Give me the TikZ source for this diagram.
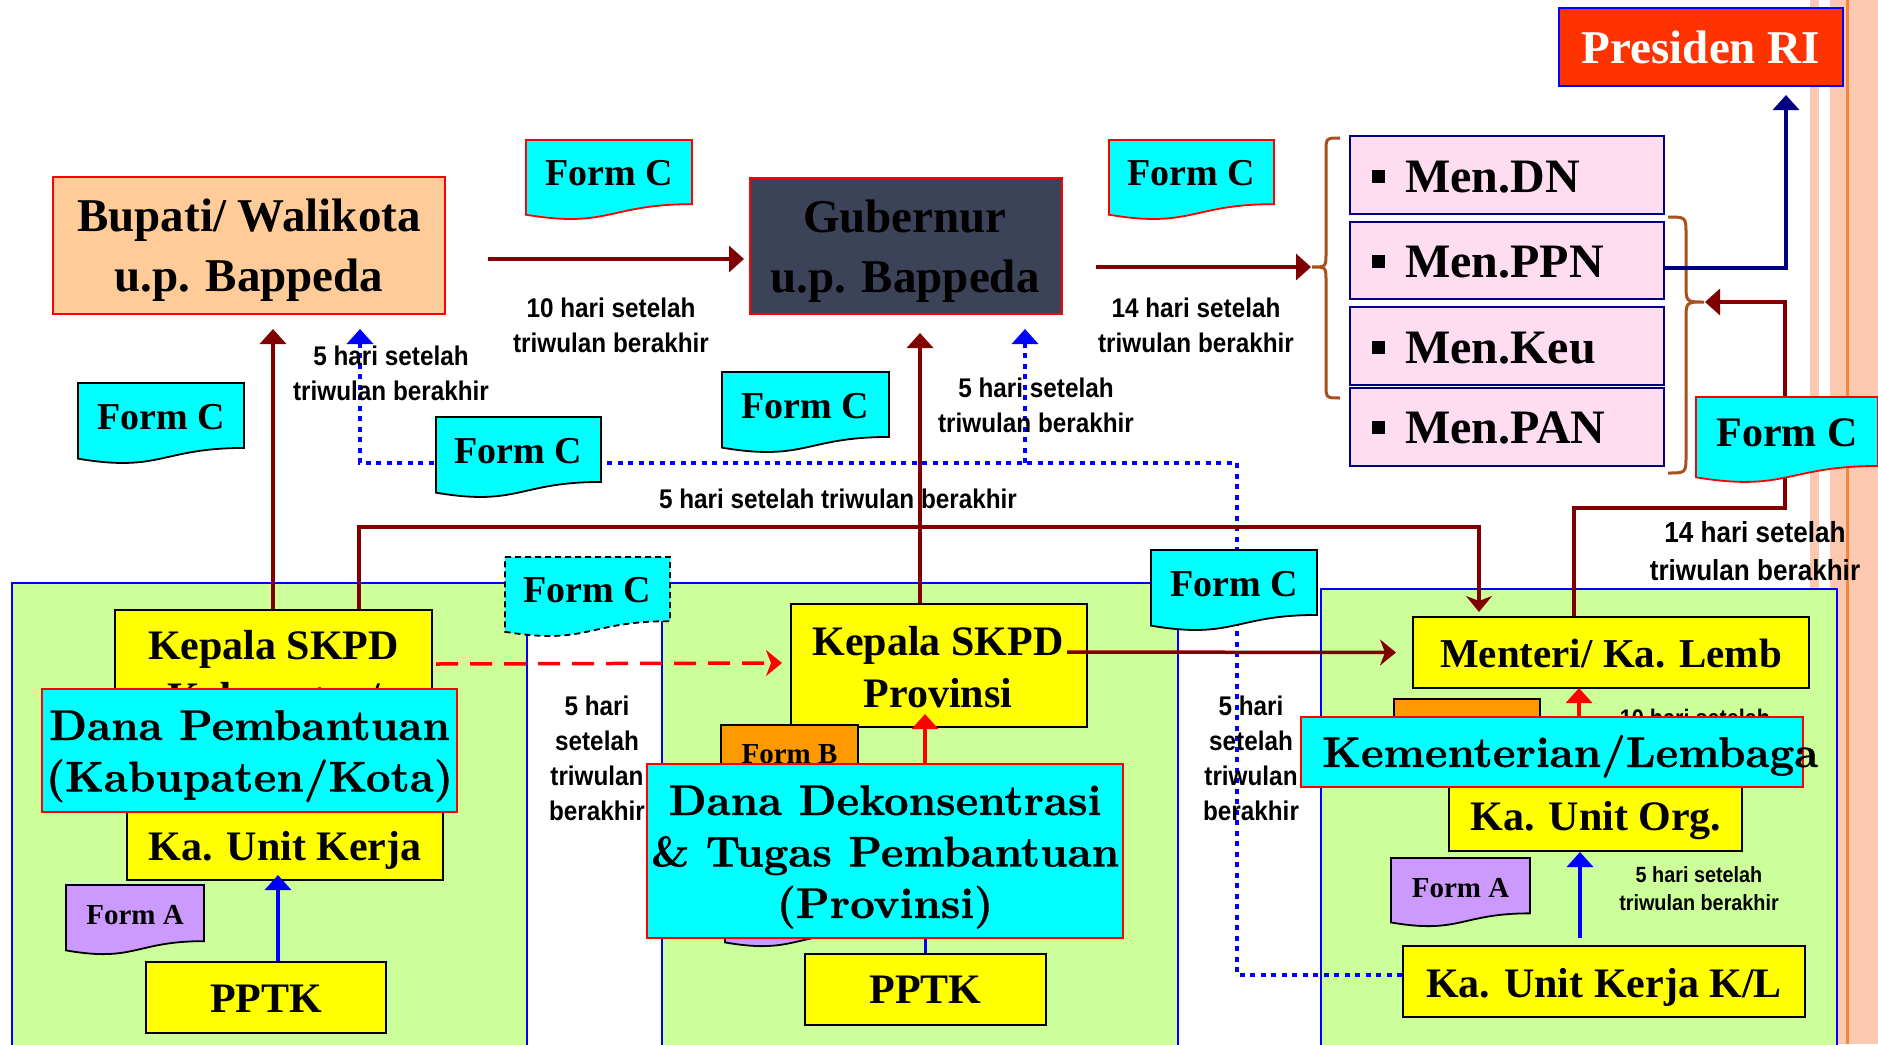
\documentclass[tikz,border=0pt]{standalone}
\usepackage{fontspec}
\setmainfont{Liberation Serif}
\newfontfamily\labfont[FakeStretch=0.9]{Liberation Sans}
\newfontfamily\lmwide[Extension=.otf, UprightFont=*-regular, BoldFont=*-bold, BoldFeatures={FakeBold=0.7}]{lmroman10}
\usetikzlibrary{arrows.meta,calc}

\pgfdeclarelayer{bg}
\pgfdeclarelayer{lines}
\pgfdeclarelayer{top}
\pgfsetlayers{bg,lines,main,top}

\definecolor{dred}{HTML}{800000}
\definecolor{navyc}{HTML}{000080}
\definecolor{bluec}{HTML}{0000FF}
\definecolor{cyanc}{HTML}{00FFFF}
\definecolor{yel}{HTML}{FFFF00}
\definecolor{panelg}{HTML}{CCFF99}
\definecolor{peach}{HTML}{FFCC99}
\definecolor{slate}{HTML}{3C4358}
\definecolor{pinkm}{HTML}{FFDDF1}
\definecolor{pres}{HTML}{FF3300}
\definecolor{formb}{HTML}{FF9900}
\definecolor{forma}{HTML}{CC99FF}
\definecolor{bracec}{HTML}{A8501E}
\definecolor{salmon}{HTML}{FCC8B0}
\definecolor{stripe}{HTML}{F5853F}

% stacked lines, baseline = first line
\newcommand\mlines[1]{\begin{tabular}[t]{@{}c@{}}#1\end{tabular}}
% square bullet for the ministry list
\newcommand\mbul{\rule[9.5pt]{13pt}{13pt}\hspace{20pt}}
% flowchart "document" sheet: name, x, y, w, h, sheet style, text style, text
\newcommand\docform[8]{%
  \pgfmathsetmacro\fxr{#2+#4}%
  \pgfmathsetmacro\fxm{#2+0.5*#4}%
  \pgfmathsetmacro\fya{#3+0.802*#5}%
  \pgfmathsetmacro\fyb{#3+1.1075*#5}%
  \pgfmathsetmacro\fyc{#3+0.934*#5}%
  \pgfmathsetmacro\fyt{#3+0.57*#5}%
  \path[#6] (#2,#3) -- (\fxr,#3) -- (\fxr,\fya) .. controls (\fxm,\fya) and (\fxm,\fyb) .. (#2,\fyc) -- cycle;
  \node[#7] (#1) at (\fxm,\fyt) {#8};
}

\begin{document}
\begin{tikzpicture}[x=1pt,y=-1pt,
  every node/.style={inner sep=0pt},
  boxbase/.style={draw, line width=2pt, inner sep=0pt},
  ybox/.style={boxbase, draw=black, fill=yel},
  cbox/.style={boxbase, draw=red, fill=cyanc},
  mbox/.style={boxbase, draw=navyc, fill=pinkm, minimum width=314pt},
  panel/.style={fill=panelg, draw=bluec, line width=1.8pt},
  serif/.style={anchor=base, font=\bfseries\fontsize{42}{52}\selectfont},
  bigserif/.style={anchor=base, font=\bfseries\fontsize{47}{60}\selectfont},
  lmtxt/.style={anchor=base, font=\lmwide\bfseries\fontsize{43}{51.5}\selectfont},
  mtxt/.style={anchor=base west, font=\bfseries\fontsize{48}{56}\selectfont},
  lbl/.style={anchor=base, font=\labfont\bfseries\fontsize{27}{35}\selectfont},
  formC/.style={fill=cyanc, draw=black, line width=1.8pt},
  formCr/.style={formC, draw=red},
  formCd/.style={formC, dash pattern=on 6pt off 4pt},
  formAs/.style={fill=forma, draw=black, line width=1.8pt},
  ftC/.style={anchor=base, font=\bfseries\fontsize{38}{44}\selectfont},
  ftCbig/.style={anchor=base, font=\bfseries\fontsize{42}{48}\selectfont},
  ftA/.style={anchor=base, font=\bfseries\fontsize{29}{34}\selectfont},
  conn/.style={draw=dred, line width=3.5pt},
  redc/.style={draw=red, line width=3.5pt},
  blu/.style={draw=bluec, line width=3.5pt},
  nav/.style={draw=navyc, line width=3.5pt},
  dotl/.style={draw=bluec, line width=4.5pt, dash pattern=on 5pt off 5.5pt},
  rdash/.style={draw=red, line width=3.5pt, dash pattern=on 22pt off 12pt},
  brc/.style={draw=bracec, line width=3pt},
  tri/.style={-{Triangle[length=15pt,width=26pt]}},
  stl/.style={-{Stealth[length=16pt,width=26pt,inset=5pt]}},
]
\useasboundingbox (0,0) rectangle (1878,1044);

% ---------- backdrop: edge stripes and the three green panels ----------
\begin{pgfonlayer}{bg}
  \fill[salmon] (1810,0) rectangle (1819,1044);
  \fill[salmon] (1830,0) rectangle (1878,1044);
  \fill[stripe] (1846,0) rectangle (1848.5,1044);
  \path[panel] (12,583) rectangle (527,1060);
  \path[panel] (662,583) rectangle (1178,1060);
  \path[panel] (1321,589) rectangle (1837,1060);
\end{pgfonlayer}

% ---------- top row ----------
\node[boxbase, draw=red, fill=peach, minimum width=392pt, minimum height=137pt] (bupati) at (249,245.5) {};
\node[bigserif] (bupatiT) at (249,231.5) {\mlines{Bupati/ Walikota\\u.p. Bappeda}};
\node[boxbase, draw=red, fill=slate, minimum width=312pt, minimum height=136pt] (gub) at (906,246) {};
\node[bigserif] (gubT) at (905,232) {\mlines{Gubernur\\u.p. Bappeda}};
\node[boxbase, draw=bluec, fill=pres, minimum width=284pt, minimum height=78pt] (pres) at (1701,47) {};
\node[bigserif, text=white] (presT) at (1701,63) {Presiden RI};

\node[mbox, minimum height=78pt] (mdn) at (1507,175) {};
\node[mtxt] (mdnT) at (1372,192) {\mbul Men.DN};
\node[mbox, minimum height=77pt] (mppn) at (1507,260.5) {};
\node[mtxt] (mppnT) at (1372,277) {\mbul Men.PPN};
\node[mbox, minimum height=78pt] (mkeu) at (1507,346) {};
\node[mtxt] (mkeuT) at (1372,363) {\mbul Men.Keu};
\node[mbox, minimum height=78pt] (mpan) at (1507,427) {};
\node[mtxt] (mpanT) at (1372,443) {\mbul Men.PAN};

% ---------- Form C sheets ----------
\docform{fc1}{526}{140}{166}{80}{formCr}{ftC}{Form C}
\docform{fc2}{1109}{140}{165}{80}{formCr}{ftC}{Form C}
\docform{fc3}{78}{383}{166}{81}{formC}{ftC}{Form C}
\docform{fc4}{436}{417}{165}{81}{formC}{ftC}{Form C}
\docform{fc5}{722}{372}{167}{81}{formC}{ftC}{Form C}
\docform{fc6}{1696}{397}{182}{86}{formCr}{ftCbig}{Form C}
\docform{fc7}{505}{557}{165}{80}{formCd}{ftC}{Form C}
\docform{fc8}{1151}{550}{166}{81}{formC}{ftC}{Form C}

% ---------- deadline labels ----------
\node[lbl] (l10) at (611,317) {\mlines{10 hari setelah\\triwulan berakhir}};
\node[lbl] (l14) at (1196,317) {\mlines{14 hari setelah\\triwulan berakhir}};
\node[lbl] (l5a) at (391,365) {\mlines{5 hari setelah\\triwulan berakhir}};
\node[lbl] (l5b) at (1036,397) {\mlines{5 hari setelah\\triwulan berakhir}};
\node[lbl] (l5c) at (838,508) {5 hari setelah triwulan berakhir};
\node[lbl, font=\labfont\bfseries\fontsize{29}{38}\selectfont] (l14r) at (1755,542) {\mlines{14 hari setelah\\triwulan berakhir}};
\node[lbl] (l5d) at (597,715) {\mlines{5 hari\\setelah\\triwulan\\berakhir}};
\node[lbl] (l5e) at (1251,715) {\mlines{5 hari\\setelah\\triwulan\\berakhir}};
\node[lbl, font=\labfont\bfseries\fontsize{22}{28}\selectfont] (l5f) at (1699,882) {\mlines{5 hari setelah\\triwulan berakhir}};

% ---------- Kabupaten/Kota panel ----------
\node[ybox, minimum width=317pt, minimum height=130pt] (kepkab) at (273.5,675) {};
\node[serif] (kepkabT) at (273.5,659) {\mlines{Kepala SKPD\\Kabupaten/}};
\node[ybox, minimum width=316pt, minimum height=68pt] (kukk) at (285,846) {};
\node[serif] (kukkT) at (285,860) {Ka. Unit Kerja};
\node[cbox, minimum width=415pt, minimum height=123pt] (danakab) at (249.5,750.5) {};
\node[lmtxt] (danakabT) at (249.5,740) {\mlines{Dana Pembantuan\\(Kabupaten/Kota)}};
\docform{faK}{66}{885}{138}{70}{formAs}{ftA}{Form A}
\node[ybox, minimum width=240pt, minimum height=71pt] (pptkk) at (266,997.5) {};
\node[serif] (pptkkT) at (266,1012) {PPTK};

% ---------- Provinsi panel ----------
\node[ybox, minimum width=296pt, minimum height=123pt] (kepprov) at (939,665.5) {};
\node[serif] (kepprovT) at (938,655) {\mlines{Kepala SKPD\\Provinsi}};
\node[ybox, fill=formb, minimum width=137pt, minimum height=75pt] (frmB) at (789.5,762.5) {};
\node[ftA] (frmBT) at (789.5,763) {Form B};
\docform{faP}{725}{877}{138}{70}{formAs}{ftA}{}
\node[cbox, minimum width=476pt, minimum height=174pt] (dekon) at (885,851) {};
\node[lmtxt] (dekonT) at (885,815) {\mlines{Dana Dekonsentrasi\\\& Tugas Pembantuan\\(Provinsi)}};
\node[ybox, minimum width=241pt, minimum height=71pt] (pptkp) at (925.5,989.5) {};
\node[serif] (pptkpT) at (925.5,1003) {PPTK};

% ---------- Kementerian/Lembaga panel ----------
\node[ybox, minimum width=396pt, minimum height=71pt] (menteri) at (1611,652.5) {};
\node[serif, font=\bfseries\fontsize{41}{50}\selectfont] (menteriT) at (1611,667) {Menteri/ Ka. Lemb};
\node[ybox, fill=formb, minimum width=146pt, minimum height=46pt] (frmBL) at (1467,722) {};
\node[lbl, font=\labfont\bfseries\fontsize{24}{30}\selectfont] (l10h) at (1695,726) {\mlines{10 hari setelah\\triwulan berakhir}};
\node[ybox, minimum width=293pt, minimum height=70pt] (kuo) at (1595.5,816) {};
\node[serif] (kuoT) at (1596,830) {Ka. Unit Org.};
\node[cbox, minimum width=502pt, minimum height=70pt] (kem) at (1552,752) {};
\node[lmtxt, anchor=base west] (kemT) at (1322,767) {Kementerian/Lembaga};
\docform{faL}{1391}{858}{139}{69}{formAs}{ftA}{Form A}
\node[ybox, minimum width=402pt, minimum height=71pt] (kukl) at (1604,981.5) {};
\node[serif] (kuklT) at (1604,997) {Ka. Unit Kerja K/L};

% ---------- connectors under the boxes ----------
\begin{pgfonlayer}{lines}
  % dotted reporting line from the K/L work unit
  \coordinate (dR) at (1237,463);
  \coordinate (dL) at (360,463);
  \coordinate (dM) at (1025,463);
  \draw[dotl, tri] ([yshift=6.5pt]kukl.west) -| (dR) -- (dL) -- ([xshift=111pt,yshift=-14pt]bupati.south);
  \draw[dotl, tri] (dM) -- ([xshift=119pt,yshift=-14pt]gub.south);

  % braces around the ministries
  \coordinate (braceL) at (1311,267);
  \coordinate (braceR) at (1705,302);
  \draw[brc] (1340,138) .. controls (1326,138) .. (1326,152) -- (1326,253)
     .. controls (1326,267) .. (1312,267) .. controls (1326,267) .. (1326,281)
     -- (1326,384) .. controls (1326,398) .. (1340,398);
  \draw[brc] (1668,217) .. controls (1686,217) .. (1686,235) -- (1686,284)
     .. controls (1686,302) .. (1704,302) .. controls (1686,302) .. (1686,320)
     -- (1686,455) .. controls (1686,473) .. (1668,473);

  \draw[conn, tri] ([xshift=42pt,yshift=-13.5pt]bupati.east) -- ([xshift=-5pt,yshift=-13pt]gub.west);
  \draw[conn, tri] ([xshift=33pt,yshift=-21pt]gub.east) -- (braceL);
  \draw[nav, tri] ([yshift=-7.5pt]mppn.east) -| ([xshift=85pt,yshift=-8pt]pres.south);

  \coordinate (rc) at (1785,508);
  \draw[conn, tri] ([xshift=-37pt]menteri.north) |- (rc) |- (braceR);

  \coordinate (kk1) at ([xshift=-0.5pt]kepkab.north);
  \draw[conn, tri, shorten >=14pt] (kk1) -- (kk1 |- bupati.south);
  \coordinate (kk2) at ([xshift=85.5pt]kepkab.north);
  \draw[conn, stl, shorten >=4pt] (kk2) -- ++(0,-82) -| ([xshift=-132pt]menteri.north);

  \draw[rdash, stl] ([xshift=3pt,yshift=11pt]kepkab.east) -- ([xshift=-8pt,yshift=2.5pt]kepprov.west);
  \draw[blu] (pptkp.north) -- (pptkp.north |- dekon.south);
\end{pgfonlayer}

% ---------- connectors over the boxes ----------
\begin{pgfonlayer}{top}
  \coordinate (kp1) at ([xshift=-19pt]kepprov.north);
  \draw[conn, tri, shorten >=18pt] (kp1) -- (kp1 |- gub.south);
  \draw[conn, stl] ([xshift=-21pt,yshift=13.5pt]kepprov.east) -- ([xshift=-16pt]menteri.west);
  \coordinate (kp2) at ([xshift=-14pt,yshift=14pt]kepprov.south);
  \draw[redc, tri] (kp2 |- dekon.north) -- (kp2);
  \coordinate (pk1) at ([xshift=12pt]pptkk.north);
  \coordinate (ku1) at ([yshift=6pt]kukk.south);
  \draw[blu, tri] (pk1) -- (pk1 |- ku1);
  \coordinate (kl1) at ([xshift=-32pt,yshift=1pt]menteri.south);
  \draw[redc, tri] (kl1 |- kem.north) -- (kl1);
  \coordinate (kl2) at ([xshift=-24pt,yshift=7pt]kukl.north);
  \draw[blu, tri] (kl2) -- (kl2 |- kuo.south);
\end{pgfonlayer}
\end{tikzpicture}
\end{document}
